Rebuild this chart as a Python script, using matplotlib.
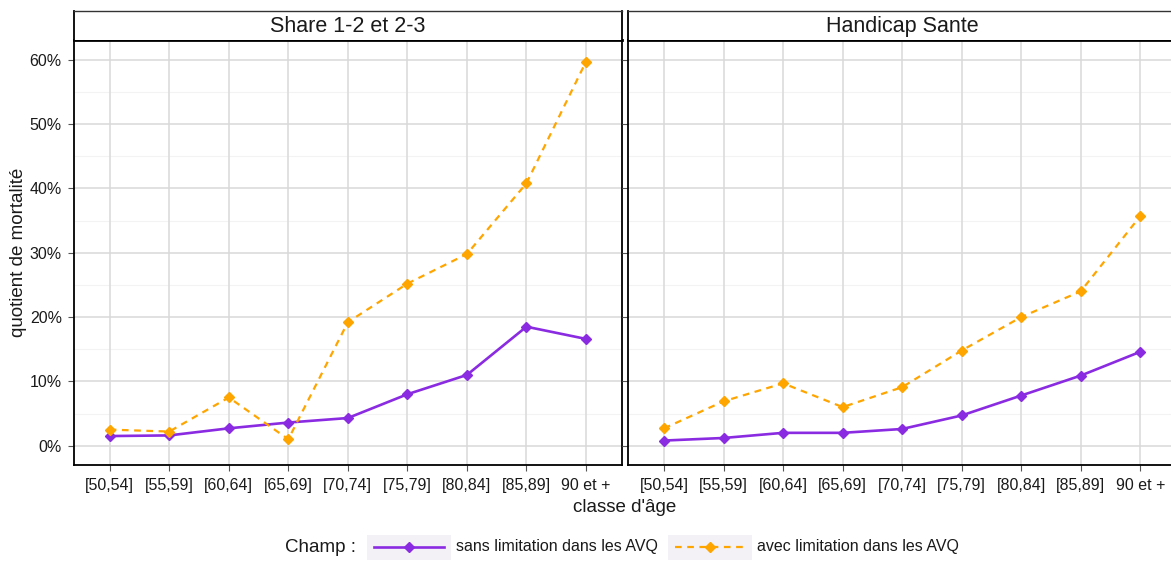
import matplotlib
matplotlib.use("Agg")
import matplotlib.pyplot as plt
from matplotlib.lines import Line2D
from matplotlib.patches import Rectangle

plt.rcParams["font.family"] = ["Liberation Sans", "DejaVu Sans"]

# ---- data -------------------------------------------------------------
age_classes = ["[50,54]", "[55,59]", "[60,64]", "[65,69]", "[70,74]",
               "[75,79]", "[80,84]", "[85,89]", "90 et +"]
panels = ["Share 1-2 et 2-3", "Handicap Sante"]
series_names = ["sans limitation dans les AVQ", "avec limitation dans les AVQ"]

# mortality quotient (%) per age class
share_sans = [1.5, 1.6, 2.7, 3.6, 4.3, 8.0, 11.0, 18.5, 16.6]
share_avec = [2.5, 2.2, 7.5, 1.0, 19.2, 25.2, 29.8, 40.8, 59.7]
hs_sans = [0.8, 1.2, 2.0, 2.0, 2.6, 4.7, 7.8, 10.9, 14.6]
hs_avec = [2.7, 6.9, 9.7, 6.0, 9.1, 14.8, 20.0, 24.0, 35.7]

y_ticks = [0, 10, 20, 30, 40, 50, 60]
y_minor = [5, 15, 25, 35, 45, 55]

panel_data = [(share_sans, share_avec), (hs_sans, hs_avec)]

# ---- style ------------------------------------------------------------
W, H = 1171, 562
DPI = 100
PURPLE = "#8a2be2"
ORANGE = "#ffa500"
TXT = "#1a1a1a"


def fx(x):
    return x / W


def fy(y):
    return 1 - y / H


fig = plt.figure(figsize=(W / DPI, H / DPI), dpi=DPI, facecolor="white")

panel_left = [74, 628.3]
panel_w = 547.7
panel_top, panel_bot = 39.5, 465
strip_top = 10.5

x = list(range(len(age_classes)))

for i, (name, (sans, avec)) in enumerate(zip(panels, panel_data)):
    left = panel_left[i]
    ax = fig.add_axes([fx(left), fy(panel_bot), panel_w / W,
                       (panel_bot - panel_top) / H])
    ax.set_facecolor("white")
    ax.set_xlim(-0.6, len(age_classes) - 1 + 0.6)
    ax.set_ylim(-3.0, 63.15)

    # grid
    for m in y_minor:
        ax.axhline(m, color="#f3f3f3", lw=0.8, zorder=0)
    for t in y_ticks:
        ax.axhline(t, color="#d9d9d9", lw=1.1, zorder=0.5)
    for xi in x:
        ax.axvline(xi, color="#d9d9d9", lw=1.1, zorder=0.5)

    ax.plot(x, sans, color=PURPLE, lw=1.9, marker="D", ms=5.5,
            solid_capstyle="butt", zorder=3)
    ax.plot(x, avec, color=ORANGE, lw=1.6, marker="D", ms=5.5,
            dashes=(3, 2.5), zorder=4)

    ax.set_xticks(x)
    ax.set_xticklabels(age_classes, fontsize=11.5, color=TXT)
    ax.set_yticks(y_ticks)
    if i == 0:
        ax.set_yticklabels([f"{t}%" for t in y_ticks], fontsize=11.5, color=TXT)
    else:
        ax.set_yticklabels([])
    ax.tick_params(axis="both", length=4.3, width=0.8, color="#555555")
    ax.tick_params(axis="x", pad=5)
    ax.tick_params(axis="y", pad=4.5)
    for sp in ax.spines.values():
        sp.set_color("black")
        sp.set_linewidth(1.3)
    ax.spines["top"].set_linewidth(2.0)

    # facet strip
    sax = fig.add_axes([fx(left), fy(panel_top), panel_w / W,
                        (panel_top - strip_top) / H])
    sax.set_xticks([])
    sax.set_yticks([])
    sax.set_facecolor("white")
    for sp in sax.spines.values():
        sp.set_color("#333333")
        sp.set_linewidth(1.0)
    sax.spines["left"].set_color("black")
    sax.spines["right"].set_color("black")
    sax.spines["left"].set_linewidth(1.3)
    sax.spines["right"].set_linewidth(1.3)
    sax.spines["bottom"].set_visible(False)
    sax.text(0.5, 0.45, name, transform=sax.transAxes, ha="center",
             va="center", fontsize=15.5, color=TXT)

# axis titles
fig.text(fx(625), fy(507), "classe d'âge", ha="center", va="center",
         fontsize=13.5, color=TXT)
fig.text(fx(19), fy(252), "quotient de mortalité", ha="center", va="center",
         rotation=90, fontsize=13.5, color=TXT)

# legend at the bottom
leg_y = 547
fig.text(fx(285), fy(leg_y), "Champ :", ha="left", va="center",
         fontsize=13.5, color=TXT)
key_specs = [
    (367, PURPLE, dict(lw=1.9), series_names[0]),
    (668, ORANGE, dict(lw=1.6, dashes=(3, 2.5)), series_names[1]),
]
for kx, col, style, label in key_specs:
    fig.patches.append(Rectangle((fx(kx), fy(leg_y + 12.5)), 84 / W, 25 / H,
                                 transform=fig.transFigure,
                                 facecolor="#f3f1f5", edgecolor="none"))
    fig.add_artist(Line2D([fx(kx + 7), fx(kx + 77)], [fy(leg_y), fy(leg_y)],
                          color=col, transform=fig.transFigure, **style))
    fig.add_artist(Line2D([fx(kx + 42)], [fy(leg_y)], color=col, marker="D",
                          ms=5.5, transform=fig.transFigure))
    fig.text(fx(kx + 89), fy(leg_y), label, ha="left", va="center",
             fontsize=11.5, color=TXT)

fig.savefig("out.png", dpi=DPI, facecolor="white")
